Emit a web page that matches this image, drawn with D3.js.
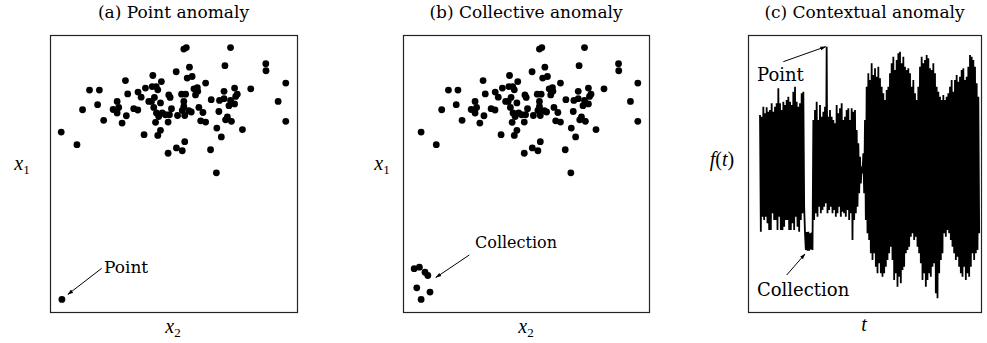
<!DOCTYPE html>
<html><head><meta charset="utf-8">
<script src="https://cdn.jsdelivr.net/npm/d3@7"></script>
<style>body{margin:0;background:#fff} svg{display:block}</style>
</head><body><svg id="c" width="987" height="343"></svg>
<script>
// ---------- data ----------
const titles = ["(a) Point anomaly", "(b) Collective anomaly", "(c) Contextual anomaly"];

// normal cloud (x2 horizontal, x1 vertical)
const cloudX2 = [0.00,0.70,0.95,1.26,1.70,1.62,1.89,2.31,2.49,2.56,2.49,2.71,2.90,2.86,2.96,3.23,3.41,3.42,3.56,3.69,3.75,3.90,4.08,4.05,4.23,4.46,4.30,4.15,4.02,4.12,4.24,4.34,4.42,4.50,4.20,4.42,4.30,4.64,4.79,4.85,4.91,4.76,4.82,4.76,5.12,5.18,5.13,5.36,5.54,5.46,5.46,5.39,5.50,5.68,5.79,5.39,5.50,5.46,5.57,5.71,5.61,5.83,5.91,6.06,5.98,6.08,6.13,6.31,6.21,6.43,6.43,6.68,6.65,6.91,6.93,7.13,7.02,7.05,7.25,7.25,7.29,7.54,7.32,7.40,7.58,7.47,7.54,7.72,7.77,7.84,7.72,8.07,8.44,9.11,9.12,9.66,10.00,10.00];
const cloudX1 = [6.65,6.15,7.54,8.32,8.32,7.74,7.12,7.55,7.87,7.63,7.41,7.01,7.30,8.70,8.17,7.58,7.53,8.24,8.04,6.55,8.40,7.87,8.90,8.46,8.46,8.66,8.33,8.03,7.87,7.63,7.41,7.27,7.81,7.41,7.04,6.72,6.52,7.34,8.13,8.03,7.58,7.05,7.34,5.81,9.05,7.31,6.02,8.16,8.16,7.87,7.67,7.51,7.31,7.50,7.45,5.91,6.27,9.95,10.01,9.23,8.80,8.86,8.37,8.42,8.13,8.27,7.63,7.43,7.10,7.05,8.60,7.94,5.95,5.03,6.81,6.46,7.47,7.91,8.27,7.98,9.29,10.01,7.14,7.25,7.08,7.70,7.91,8.40,8.07,8.16,7.77,6.75,8.37,9.37,9.09,7.87,8.60,7.08];

// (a) single point anomaly
const pointX2 = [0.03];
const pointX1 = [0.00];

// (b) collective anomaly
const collectionX2 = [-0.32,-0.08,0.18,0.31,-0.20,0.41,0.00];
const collectionX1 = [1.22,1.28,1.08,0.95,0.46,0.29,0.00];

// (c) time series envelope per sample (high / low excursion)
const signalHigh = [16.5,16.0,19.0,17.0,18.8,17.5,18.0,20.0,17.5,19.0,20.0,24.5,20.0,18.0,20.5,19.5,21.0,22.0,20.5,19.5,23.5,25.0,20.5,19.0,20.0,23.0,23.5,
  -19.0,-18.6,-18.5,-19.0,-18.8,
  15.0,18.0,20.5,15.0,19.5,16.0,17.5,19.0,37.0,16.0,18.0,16.0,15.0,14.0,19.5,17.0,18.5,20.0,15.0,16.0,18.0,18.5,15.0,18.5,17.5,18.0,12.0,8.0,4.0,1.0,
  5.0,15.0,25.0,29.0,27.0,32.0,28.5,30.5,28.0,31.0,27.5,25.0,23.0,21.0,24.0,25.0,29.0,32.0,34.0,30.0,33.0,35.0,35.5,32.0,34.0,31.0,30.0,30.5,29.0,25.0,27.0,23.0,21.0,25.0,31.0,34.0,32.0,33.0,34.5,33.5,30.5,30.0,32.0,29.0,25.0,23.5,22.0,21.0,22.5,21.0,22.0,23.0,25.0,27.0,23.5,27.0,28.5,26.5,28.0,30.0,30.5,27.0,28.0,31.0,34.5,34.0,33.0,31.0,26.0,22.0];
const signalLow = [-18.5,-14.0,-15.0,-14.0,-16.0,-18.0,-18.0,-13.0,-15.0,-15.0,-18.0,-14.0,-18.0,-18.0,-17.0,-15.0,-15.0,-18.0,-18.0,-16.0,-18.0,-14.0,-17.0,-18.5,-15.0,-13.0,-11.0,
  -24.0,-24.2,-24.2,-23.8,-24.0,
  -15.0,-13.0,-14.0,-11.0,-13.0,-12.0,-11.0,-10.0,-13.0,-12.0,-11.0,-13.0,-12.0,-14.0,-13.0,-11.0,-14.0,-12.5,-13.0,-14.0,-12.0,-15.0,-13.0,-21.0,-15.0,-13.0,-11.0,-7.0,-4.0,-1.0,
  -7.0,-15.0,-19.0,-21.0,-25.0,-27.0,-25.0,-29.0,-31.0,-28.0,-31.0,-32.0,-31.0,-29.0,-27.0,-25.0,-23.0,-27.0,-33.0,-31.0,-35.0,-32.0,-34.0,-30.0,-29.0,-25.0,-24.0,-23.0,-20.0,-19.0,-21.0,-20.0,-23.0,-25.0,-28.0,-33.0,-31.0,-35.0,-33.0,-31.0,-32.0,-29.0,-28.0,-37.0,-38.5,-31.0,-27.0,-25.0,-19.0,-20.0,-18.0,-19.0,-21.0,-23.0,-25.0,-27.0,-26.0,-29.0,-31.0,-32.0,-29.0,-33.0,-31.0,-32.0,-29.0,-25.0,-27.0,-25.0,-24.0,-19.0];
const spikeSample = 40;       // point anomaly in (c)
const collectionStart = 27;  // collective anomaly in (c)

// ---------- layout ----------
const svg = d3.select("#c");
const TOP = 35, BOTTOM = 312;
const panels = [{l:50, r:297}, {l:403, r:649}, {l:748, r:981}];
const serif = "'DejaVu Serif', serif";
const mathFont = "'Liberation Serif', 'DejaVu Serif', serif";

svg.append("defs").append("marker")
  .attr("id","ah").attr("viewBox","0 0 10 10").attr("refX",9).attr("refY",5)
  .attr("markerWidth",6).attr("markerHeight",6).attr("orient","auto")
  .append("path").attr("d","M0,1.8 L10,5 L0,8.2 Z").attr("fill","#000");

function frame(p){
  svg.append("rect").attr("x",p.l+0.5).attr("y",TOP+0.5)
    .attr("width",p.r-p.l).attr("height",BOTTOM-TOP)
    .attr("fill","none").attr("stroke","#222").attr("stroke-width",1.2);
}
function title(p, txt){
  svg.append("text").attr("x",(p.l+p.r)/2).attr("y",18).attr("text-anchor","middle")
    .attr("font-family",serif).attr("font-size",17).text(txt);
}
function mathLabel(x, y, base, sub){
  const t = svg.append("text").attr("x",x).attr("y",y).attr("text-anchor","middle")
    .attr("font-family",mathFont).attr("font-size",20).attr("fill","#000");
  t.append("tspan").attr("font-style","italic").text(base);
  if (sub) t.append("tspan").attr("dy",4).attr("font-size",13).text(sub);
}
function arrow(x1,y1,x2,y2){
  svg.append("line").attr("x1",x1).attr("y1",y1).attr("x2",x2).attr("y2",y2)
    .attr("stroke","#000").attr("stroke-width",1).attr("marker-end","url(#ah)");
}
function note(x,y,txt,size){
  svg.append("text").attr("x",x).attr("y",y).attr("font-family",serif)
    .attr("font-size",size).text(txt);
}

function scatterPanel(p, extraX2, extraX1){
  const allX = cloudX2.concat(extraX2), allY = cloudX1.concat(extraX1);
  const ex = d3.extent(allX), ey = d3.extent(allY);
  const px = (ex[1]-ex[0])*0.05, py = (ey[1]-ey[0])*0.05;
  const x = d3.scaleLinear().domain([ex[0]-px, ex[1]+px]).range([p.l, p.r]);
  const y = d3.scaleLinear().domain([ey[0]-py, ey[1]+py]).range([BOTTOM, TOP]);
  const g = svg.append("g");
  g.selectAll("circle.c").data(d3.range(cloudX2.length)).join("circle")
    .attr("cx", i => x(cloudX2[i])).attr("cy", i => y(cloudX1[i])).attr("r",3.4).attr("fill","#000");
  g.selectAll("circle.e").data(d3.range(extraX2.length)).join("circle")
    .attr("class","e")
    .attr("cx", i => x(extraX2[i])).attr("cy", i => y(extraX1[i])).attr("r",3.4).attr("fill","#000");
  return {x, y};
}

// (a)
frame(panels[0]); title(panels[0], titles[0]);
const sa = scatterPanel(panels[0], pointX2, pointX1);
arrow(101.7, 268.3, sa.x(pointX2[0])+6, sa.y(pointX1[0])-5);
note(104, 273, "Point", 17);
mathLabel(22, 170, "x", "1");
mathLabel(173, 333, "x", "2");

// (b)
frame(panels[1]); title(panels[1], titles[1]);
const sb = scatterPanel(panels[1], collectionX2, collectionX1);
arrow(469.3, 255, sb.x(collectionX2[3])+8, sb.y(collectionX1[3])+2);
note(475, 248, "Collection", 16);
mathLabel(382, 170, "x", "1");
mathLabel(526, 333, "x", "2");

// (c)
frame(panels[2]); title(panels[2], titles[2]);
const xc = d3.scaleLinear().domain([-7.2, 132.6]).range([panels[2].l, panels[2].r]);
const yc = d3.scaleLinear().domain([-42.6, 40.5]).range([BOTTOM, TOP]);
const pts = [];
signalHigh.forEach((h,i) => { pts.push([xc(i), yc(h)]); pts.push([xc(i+0.5), yc(signalLow[i])]); });
svg.append("path").attr("d", d3.line()(pts)).attr("fill","none")
  .attr("stroke","#000").attr("stroke-width",1.8).attr("stroke-linejoin","miter").attr("stroke-miterlimit",2);
note(757, 81, "Point", 18);
arrow(783.3, 61.7, xc(spikeSample)-1, yc(signalHigh[spikeSample]));
note(757, 296, "Collection", 18);
arrow(786.7, 275, xc(collectionStart), yc(signalLow[collectionStart])+4);
const ft = svg.append("text").attr("x",722).attr("y",166).attr("text-anchor","middle")
  .attr("font-family",mathFont).attr("font-size",20);
ft.append("tspan").attr("font-style","italic").text("f");
ft.append("tspan").text("(");
ft.append("tspan").attr("font-style","italic").text("t");
ft.append("tspan").text(")");
mathLabel(864, 331, "t");
</script></body></html>
